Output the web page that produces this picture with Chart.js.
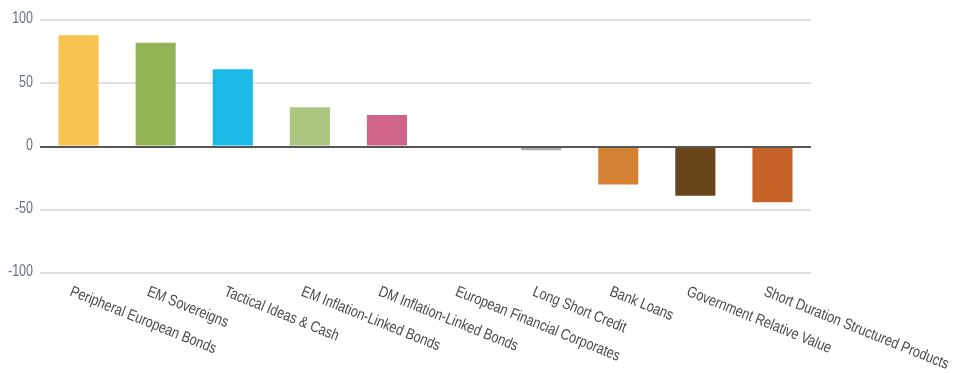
<!DOCTYPE html>
<html>
<head>
<meta charset="utf-8">
<script src="https://cdn.jsdelivr.net/npm/chart.js@4/dist/chart.umd.min.js"></script>
<style>
html,body{margin:0;padding:0;background:#fff;}
#wrap{position:relative;width:956px;height:373px;}
</style>
</head>
<body>
<div id="wrap"><canvas id="c"></canvas></div>
<script>
const categories = ["Peripheral European Bonds","EM Sovereigns","Tactical Ideas & Cash","EM Inflation-Linked Bonds","DM Inflation-Linked Bonds","European Financial Corporates","Long Short Credit","Bank Loans","Government Relative Value","Short Duration Structured Products"];
const values = [88, 82, 61, 31, 25, 0, -3, -30, -39, -44];
const barColors = ["#F8C24F","#93B455","#1AB9E6","#ABC681","#D0648B","#AAAAAA","#AEAEAD","#D38133","#6B451A","#C46228"];
const yTicks = [-100, -50, 0, 50, 100];

const FONT = '"Liberation Sans", Arial, sans-serif';
const SQUEEZE = 0.82;

const condensedText = {
  id: 'condensedText',
  afterDatasetsDraw(chart) {
    const ctx = chart.ctx;
    const ys = chart.scales.y;
    const y0 = Math.round(ys.getPixelForValue(0));
    ctx.save();
    ctx.strokeStyle = '#555555';
    ctx.lineWidth = 2;
    ctx.beginPath();
    ctx.moveTo(chart.chartArea.left, y0);
    ctx.lineTo(chart.chartArea.right, y0);
    ctx.stroke();
    ctx.restore();
  },
  afterDraw(chart) {
    const ctx = chart.ctx;
    const xs = chart.scales.x;
    const ys = chart.scales.y;
    ctx.save();
    ctx.font = '15.5px ' + FONT;
    ctx.fillStyle = '#4a4a4a';
    ctx.textAlign = 'left';
    ctx.textBaseline = 'top';
    const angle = 22 * Math.PI / 180;
    categories.forEach((lab, i) => {
      const x = xs.getPixelForTick(i) - 5;
      const y = 284;
      ctx.save();
      ctx.translate(x, y);
      ctx.rotate(angle);
      ctx.scale(SQUEEZE, 1);
      ctx.fillText(lab, 0, 0);
      ctx.restore();
    });
    ctx.font = '16px ' + FONT;
    ctx.fillStyle = '#66708a';
    ctx.textAlign = 'right';
    ctx.textBaseline = 'middle';
    yTicks.forEach(v => {
      const y = ys.getPixelForValue(v);
      ctx.save();
      ctx.translate(33, y - 1);
      ctx.scale(0.78, 1);
      ctx.fillText(String(v), 0, 0);
      ctx.restore();
    });
    ctx.restore();
  }
};

new Chart(document.getElementById('c'), {
  type: 'bar',
  data: {
    labels: categories,
    datasets: [{
      data: values,
      backgroundColor: barColors,
      borderWidth: 0,
      categoryPercentage: 1,
      barPercentage: 0.52
    }]
  },
  options: {
    responsive: true,
    maintainAspectRatio: false,
    animation: false,
    layout: { padding: { top: 20, bottom: 100, left: 0, right: 145 } },
    plugins: { legend: { display: false }, tooltip: { enabled: false } },
    scales: {
      x: {
        afterFit(scale) { scale.height = 0; },
        ticks: { display: false },
        grid: { display: false },
        border: { display: false }
      },
      y: {
        min: -100, max: 100,
        afterFit(scale) { scale.width = 40; },
        afterBuildTicks(scale) { scale.ticks = yTicks.map(v => ({ value: v })); },
        ticks: { display: false },
        border: { display: false },
        grid: {
          drawTicks: false,
          lineWidth: 2,
          color: ctx => ctx.tick && ctx.tick.value === 0 ? '#555555' : '#e0e0e0'
        }
      }
    }
  },
  plugins: [condensedText]
});
</script>
</body>
</html>
